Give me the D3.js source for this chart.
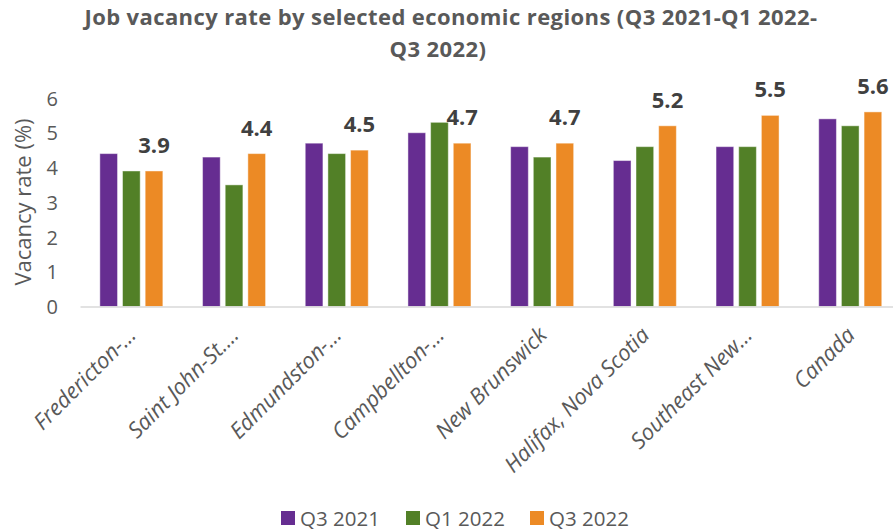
<!DOCTYPE html>
<html>
<head>
<meta charset="utf-8">
<script src="https://cdn.jsdelivr.net/npm/d3@7/dist/d3.min.js"></script>
<style>
  html, body { margin: 0; padding: 0; background: #fff; }
  svg { display: block; }
</style>
</head>
<body>
<svg id="chart" width="893" height="531"></svg>
<script>
// Regions on the x axis (long names are shortened as in the axis labels)
const categories = [
  "Fredericton-\u2026", "Saint John-St.\u2026", "Edmundston-\u2026", "Campbellton-\u2026",
  "New Brunswick", "Halifax, Nova Scotia", "Southeast New\u2026", "Canada"
];
const seriesNames = ["Q3 2021", "Q1 2022", "Q3 2022"];
const q3_2021 = [4.4, 4.3, 4.7, 5.0, 4.6, 4.2, 4.6, 5.4];
const q1_2022 = [3.9, 3.5, 4.4, 5.3, 4.3, 4.6, 4.6, 5.2];
const q3_2022 = [3.9, 4.4, 4.5, 4.7, 4.7, 5.2, 5.5, 5.6];
const yTicks = [0, 1, 2, 3, 4, 5, 6];
const titleLines = ["Job vacancy rate by selected economic regions (Q3 2021-Q1 2022-", "Q3 2022)"];
const yTitle = "Vacancy rate (%)";

const colors = ["#662d91", "#528027", "#ec8a25"];
const seriesValues = [q3_2021, q1_2022, q3_2022];

const svg = d3.select("#chart");
const font = "'Open Sans', sans-serif";
const textColor = "#595959";

// Scales
const x0 = d3.scaleBand().domain(categories).range([80, 901.6]).padding(0);
const x1 = d3.scaleBand().domain(seriesNames).range([-34, 34]).paddingInner(0.22).paddingOuter(0.11);
const y = d3.scaleLinear().domain([0, 6]).range([306.5, 98]);
const color = d3.scaleOrdinal().domain(seriesNames).range(colors);

// Title (two lines)
svg.append("text")
  .attr("x", 451).attr("y", 25)
  .attr("text-anchor", "middle")
  .attr("font-family", font).attr("font-weight", 700).attr("font-size", 22)
  .attr("letter-spacing", 0.4)
  .attr("fill", textColor)
  .text(titleLines[0]);
svg.append("text")
  .attr("x", 438).attr("y", 57)
  .attr("text-anchor", "middle")
  .attr("font-family", font).attr("font-weight", 700).attr("font-size", 22)
  .attr("letter-spacing", 0.4)
  .attr("fill", textColor)
  .text(titleLines[1]);

// Y axis (labels only, no line)
const yAxis = d3.axisLeft(y).tickValues(yTicks).tickSize(0).tickPadding(0).tickFormat(d3.format("d"));
const yg = svg.append("g").attr("transform", "translate(58,0)").call(yAxis);
yg.select(".domain").remove();
yg.selectAll("text")
  .attr("font-family", font).attr("font-size", 20)
  .attr("fill", textColor)
  .attr("dy", "0.35em");

svg.append("text")
  .attr("transform", "translate(31,202) rotate(-90)")
  .attr("text-anchor", "middle")
  .attr("font-family", font).attr("font-size", 22)
  .attr("fill", textColor)
  .text(yTitle);

// Bars
const rows = categories.map((c, i) => ({
  cat: c,
  vals: seriesNames.map((s, j) => ({ series: s, value: seriesValues[j][i] }))
}));

const groups = svg.append("g").selectAll("g")
  .data(rows).join("g")
  .attr("transform", d => `translate(${x0(d.cat) + x0.bandwidth() / 2},0)`);

groups.selectAll("rect")
  .data(d => d.vals).join("rect")
  .attr("x", d => x1(d.series))
  .attr("y", d => y(d.value))
  .attr("width", x1.bandwidth())
  .attr("height", d => y(0) - y(d.value))
  .attr("fill", d => color(d.series))
  .attr("stroke", "#ffffff").attr("stroke-opacity", 0.45).attr("stroke-width", 1);

// Value labels on the latest quarter
groups.append("text")
  .attr("x", x1("Q3 2022") + x1.bandwidth() / 2)
  .attr("y", d => y(d.vals[2].value) - 18)
  .attr("text-anchor", "middle")
  .attr("font-family", font).attr("font-weight", 700).attr("font-size", 22)
  .attr("fill", "#404040")
  .text(d => d3.format(".1f")(d.vals[2].value));

// X axis
const xAxis = d3.axisBottom(x0).tickSize(0).tickPadding(0);
const xg = svg.append("g").attr("transform", `translate(0,${y(0)})`).call(xAxis);
xg.select(".domain").attr("stroke", "#d9d9d9").attr("stroke-width", 1.5);
xg.selectAll(".tick text")
  .attr("font-family", font).attr("font-size", 22).attr("font-style", "italic")
  .attr("fill", textColor)
  .attr("text-anchor", "end")
  .attr("dy", 0)
  .attr("transform", "translate(6,30) rotate(-45)");

// Legend
const legendX = [281, 406, 530];
const legend = svg.append("g").selectAll("g")
  .data(seriesNames).join("g")
  .attr("transform", (d, i) => `translate(${legendX[i]},511)`);
legend.append("rect").attr("width", 14).attr("height", 14).attr("fill", d => color(d));
legend.append("text")
  .attr("x", 19).attr("y", 14.5)
  .attr("font-family", font).attr("font-size", 20.5)
  .attr("fill", textColor)
  .text(d => d);
</script>
</body>
</html>
